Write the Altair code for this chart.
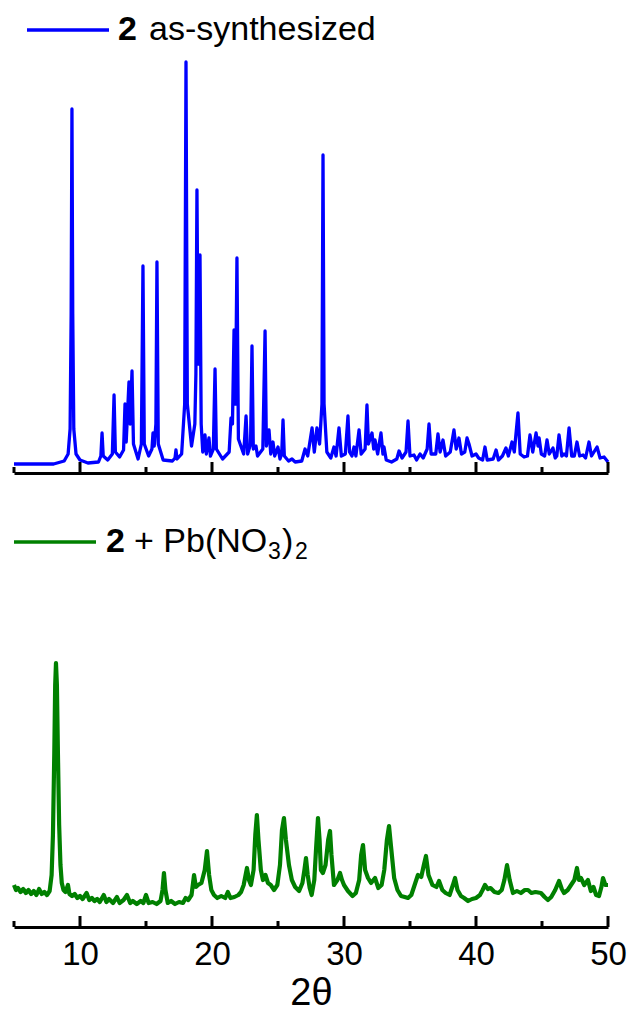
import altair as alt
import pandas as pd

# ---- data (x = 2theta in degrees, h = relative intensity) ----
top_points = [
    (5.00, 0), (8.00, 0), (8.80, 3), (9.10, 10), (9.25, 35), (9.33, 150), (9.39, 355), (9.45, 150),
    (9.53, 35), (9.70, 10), (10.00, 4), (10.60, 1), (11.40, 2), (11.58, 8), (11.67, 31), (11.76, 8),
    (12.10, 4), (12.45, 10), (12.58, 69), (12.68, 12), (13.00, 7), (13.30, 14), (13.41, 60), (13.50, 22),
    (13.71, 82), (13.80, 40), (13.94, 93), (14.05, 20), (14.40, 5), (14.65, 20), (14.77, 198), (14.87, 20),
    (15.20, 8), (15.45, 15), (15.53, 31), (15.62, 18), (15.75, 40), (15.83, 202), (15.93, 20), (16.30, 4),
    (17.00, 3), (17.20, 6), (17.27, 14), (17.35, 5), (17.70, 10), (17.93, 60), (18.03, 402), (18.13, 60),
    (18.45, 18), (18.70, 40), (18.78, 90), (18.86, 274), (18.95, 100), (19.09, 209), (19.18, 40), (19.30, 12),
    (19.47, 29), (19.57, 10), (19.77, 26), (19.88, 8), (20.10, 15), (20.23, 95), (20.33, 15), (20.80, 5),
    (21.30, 12), (21.44, 46), (21.55, 40), (21.67, 134), (21.78, 60), (21.89, 206), (22.00, 25), (22.40, 10),
    (22.58, 48), (22.70, 10), (22.92, 20), (23.03, 118), (23.13, 15), (23.33, 18), (23.45, 8), (23.85, 15),
    (24.02, 133), (24.12, 18), (24.32, 34), (24.45, 10), (24.62, 22), (24.75, 8), (25.00, 17), (25.15, 5),
    (25.28, 10), (25.38, 44), (25.48, 8), (25.80, 3), (26.06, 5), (26.30, 2), (26.80, 3), (27.05, 15),
    (27.25, 8), (27.58, 36), (27.75, 12), (27.95, 36), (28.15, 20), (28.33, 60), (28.41, 309), (28.49, 60),
    (28.70, 12), (29.00, 6), (29.24, 17), (29.40, 8), (29.62, 36), (29.80, 8), (30.10, 10), (30.30, 48),
    (30.42, 12), (30.60, 8), (30.76, 17), (30.90, 8), (31.14, 34), (31.30, 10), (31.60, 15), (31.74, 59),
    (31.85, 20), (32.12, 31), (32.25, 15), (32.35, 24), (32.55, 10), (32.80, 31), (32.95, 10), (33.03, 17),
    (33.20, 4), (33.60, 2), (34.00, 5), (34.17, 13), (34.40, 6), (34.70, 12), (34.85, 43), (35.00, 8),
    (35.30, 9), (35.50, 4), (35.76, 10), (36.00, 6), (36.30, 15), (36.44, 40), (36.60, 10), (36.95, 10),
    (37.12, 30), (37.28, 12), (37.50, 24), (37.70, 8), (38.05, 12), (38.33, 34), (38.50, 15), (38.71, 26),
    (38.90, 10), (39.15, 12), (39.32, 26), (39.47, 20), (39.70, 8), (40.00, 10), (40.20, 6), (40.50, 4),
    (40.68, 17), (40.85, 4), (41.30, 5), (41.52, 14), (41.70, 4), (42.00, 8), (42.27, 16), (42.45, 8),
    (42.73, 22), (42.90, 12), (43.18, 51), (43.35, 10), (43.64, 7), (43.90, 8), (44.09, 29), (44.30, 12),
    (44.55, 31), (44.70, 18), (44.78, 26), (44.95, 10), (45.20, 8), (45.38, 24), (45.55, 10), (45.83, 16),
    (46.00, 6), (46.12, 8), (46.29, 29), (46.50, 8), (46.67, 10), (46.85, 8), (47.05, 36), (47.25, 8),
    (47.45, 8), (47.65, 22), (47.85, 8), (48.11, 9), (48.30, 6), (48.56, 22), (48.75, 8), (49.17, 17),
    (49.40, 6), (49.70, 7), (50.00, 2),
]

bottom_points = [
    (5.00, 40), (5.15, 35), (5.30, 37), (5.50, 33), (5.70, 36), (5.90, 32), (6.10, 35), (6.30, 31),
    (6.50, 34), (6.70, 30), (6.90, 36), (7.10, 31), (7.30, 33), (7.50, 30), (7.70, 34), (7.85, 50),
    (7.95, 90), (8.05, 170), (8.12, 240), (8.18, 262), (8.25, 240), (8.33, 170), (8.42, 100), (8.52, 60),
    (8.62, 42), (8.75, 35), (8.90, 33), (9.09, 40), (9.20, 31), (9.40, 29), (9.60, 31), (9.80, 27),
    (10.00, 29), (10.20, 26), (10.50, 32), (10.70, 25), (10.90, 27), (11.10, 24), (11.30, 26), (11.50, 23),
    (11.80, 30), (12.00, 23), (12.20, 26), (12.50, 22), (12.80, 28), (13.00, 22), (13.30, 25), (13.56, 30),
    (13.80, 22), (14.00, 24), (14.30, 21), (14.60, 24), (14.80, 22), (15.00, 30), (15.20, 22), (15.50, 23),
    (15.80, 21), (16.10, 24), (16.25, 35), (16.36, 52), (16.47, 35), (16.65, 22), (16.90, 24), (17.20, 21),
    (17.50, 23), (17.80, 22), (18.00, 27), (18.20, 25), (18.45, 30), (18.64, 50), (18.78, 38), (18.94, 40),
    (19.20, 42), (19.45, 55), (19.62, 74), (19.78, 50), (19.95, 35), (20.15, 30), (20.40, 27), (20.70, 29),
    (21.00, 27), (21.20, 33), (21.40, 27), (21.70, 28), (22.00, 30), (22.20, 33), (22.40, 40), (22.65, 57),
    (22.80, 45), (22.95, 40), (23.15, 55), (23.28, 90), (23.40, 110), (23.52, 85), (23.70, 55), (23.86, 45),
    (24.05, 50), (24.24, 42), (24.45, 40), (24.70, 35), (24.95, 40), (25.15, 60), (25.30, 95), (25.45, 107),
    (25.60, 85), (25.83, 60), (26.05, 45), (26.30, 38), (26.60, 34), (26.85, 42), (27.00, 55), (27.12, 67),
    (27.25, 50), (27.40, 37), (27.55, 30), (27.75, 45), (27.90, 80), (28.03, 107), (28.15, 85), (28.25, 55),
    (28.40, 52), (28.60, 60), (28.80, 85), (28.94, 94), (29.05, 70), (29.24, 40), (29.50, 45), (29.70, 52),
    (29.85, 45), (30.00, 40), (30.30, 34), (30.65, 29), (30.90, 32), (31.15, 45), (31.30, 70), (31.44, 80),
    (31.60, 55), (31.82, 47), (32.05, 42), (32.35, 47), (32.60, 37), (32.85, 40), (33.05, 55), (33.25, 85),
    (33.41, 99), (33.55, 80), (33.80, 47), (34.05, 35), (34.32, 29), (34.60, 28), (34.85, 27), (35.10, 30),
    (35.35, 40), (35.60, 50), (35.85, 48), (36.05, 60), (36.21, 69), (36.40, 50), (36.70, 40), (37.00, 38),
    (37.20, 44), (37.45, 35), (37.70, 32), (38.00, 30), (38.25, 40), (38.41, 47), (38.60, 35), (38.86, 29),
    (39.10, 27), (39.40, 24), (39.70, 26), (40.00, 27), (40.30, 30), (40.50, 35), (40.68, 40), (40.90, 36),
    (41.10, 37), (41.40, 33), (41.70, 32), (41.95, 35), (42.15, 45), (42.35, 60), (42.55, 45), (42.80, 32),
    (43.10, 34), (43.40, 32), (43.70, 35), (43.94, 35), (44.20, 32), (44.50, 33), (44.92, 32), (45.20, 28),
    (45.45, 25), (45.70, 28), (46.00, 35), (46.29, 44), (46.50, 36), (46.67, 32), (46.95, 35), (47.20, 40),
    (47.45, 45), (47.65, 57), (47.80, 45), (47.95, 47), (48.20, 40), (48.48, 45), (48.70, 34), (48.90, 38),
    (49.10, 30), (49.32, 29), (49.50, 38), (49.62, 47), (49.80, 40), (50.00, 40),
]

major_ticks = [10, 20, 30, 40, 50]
minor_ticks = [5, 15, 25, 35, 45]
tick_labels = [10, 20, 30, 40, 50]

top_label = ["2", "as-synthesized"]
bottom_label = ["2", "+ Pb(NO", "3", ")", "2"]

FONT = "Liberation Sans"
W = 594
H1 = 473
H2 = 427

top_df = pd.DataFrame(top_points, columns=["x", "h"])
bot_df = pd.DataFrame(bottom_points, columns=["x", "h"])
major_df = pd.DataFrame({"x": major_ticks})
minor_df = pd.DataFrame({"x": minor_ticks})

xscale = alt.Scale(domain=[5, 50], nice=False, zero=False)

top_axis = alt.Axis(labels=False, ticks=False, title=None, domainColor="black",
                    domainWidth=3, grid=False)
bot_axis = alt.Axis(values=tick_labels, ticks=False, domainColor="black", domainWidth=3,
                    labelFont=FONT, labelFontSize=33, labelColor="black", labelPadding=11,
                    title="2θ", titleFont=FONT, titleFontSize=38, titleFontWeight="normal",
                    titleColor="black", titlePadding=3, grid=False, labelFlush=False)


def ticks_layer(h, axis):
    maj = alt.Chart(major_df).mark_rule(color="black", strokeWidth=3).encode(
        x=alt.X("x:Q", scale=xscale, axis=axis),
        y=alt.value(h), y2=alt.value(h - 11))
    mnr = alt.Chart(minor_df).mark_rule(color="black", strokeWidth=3).encode(
        x=alt.X("x:Q", scale=xscale, axis=axis),
        y=alt.value(h), y2=alt.value(h - 6))
    return maj, mnr


# ---------------- top panel ----------------
top_line = alt.Chart(top_df).mark_line(color="#0000FF", strokeWidth=3.3, strokeJoin="round").encode(
    x=alt.X("x:Q", scale=xscale, axis=top_axis),
    y=alt.Y("h:Q", scale=alt.Scale(domain=[-9, 464], nice=False, zero=False), axis=None),
)
t_maj, t_min = ticks_layer(H1, top_axis)
ty = 30
top_leg_line = alt.Chart(pd.DataFrame({"a": [0]})).mark_rule(color="#0000FF", strokeWidth=3.5).encode(
    x=alt.value(13), x2=alt.value(95), y=alt.value(ty))
top_leg_2 = alt.Chart(pd.DataFrame({"t": [top_label[0]]})).mark_text(
    font=FONT, fontSize=34, fontWeight="bold", align="left", baseline="middle", color="black"
).encode(x=alt.value(104), y=alt.value(ty), text="t:N")
top_leg_txt = alt.Chart(pd.DataFrame({"t": [top_label[1]]})).mark_text(
    font=FONT, fontSize=34, align="left", baseline="middle", color="black"
).encode(x=alt.value(135), y=alt.value(ty), text="t:N")

top = alt.layer(top_line, t_maj, t_min, top_leg_line, top_leg_2, top_leg_txt).properties(width=W, height=H1)

# ---------------- bottom panel ----------------
bot_line = alt.Chart(bot_df).mark_line(color="#008000", strokeWidth=4.2, strokeJoin="round").encode(
    x=alt.X("x:Q", scale=xscale, axis=bot_axis),
    y=alt.Y("h:Q", scale=alt.Scale(domain=[-2, 425], nice=False, zero=False), axis=None),
)
b_maj, b_min = ticks_layer(H2, bot_axis)
ly = 42
bot_leg_line = alt.Chart(pd.DataFrame({"a": [0]})).mark_rule(color="#008000", strokeWidth=3.5).encode(
    x=alt.value(0), x2=alt.value(82), y=alt.value(ly))
bot_parts = []
specs = [
    (bottom_label[0], 92, ly, 34, "bold"),
    (bottom_label[1], 120, ly, 34, "normal"),
    (bottom_label[2], 254, ly + 10, 23, "normal"),
    (bottom_label[3], 268, ly, 34, "normal"),
    (bottom_label[4], 281, ly + 10, 23, "normal"),
]
for txt, px, py, fs, fw in specs:
    bot_parts.append(
        alt.Chart(pd.DataFrame({"t": [txt]})).mark_text(
            font=FONT, fontSize=fs, fontWeight=fw, align="left", baseline="middle", color="black"
        ).encode(x=alt.value(px), y=alt.value(py), text="t:N")
    )

bottom = alt.layer(bot_line, b_maj, b_min, bot_leg_line, *bot_parts).properties(width=W, height=H2)

chart = alt.vconcat(top, bottom, spacing=25).properties(
    padding={"left": 11, "top": 0, "right": 0, "bottom": 0},
    background="white",
).configure_view(strokeWidth=0, stroke="transparent")

chart.save("out.html", embed_options={"renderer": "svg", "actions": False})
